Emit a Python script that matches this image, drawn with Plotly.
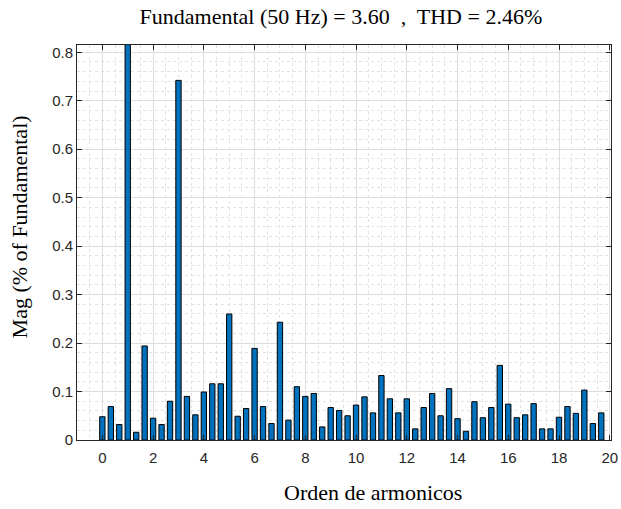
import plotly.graph_objects as go

harmonic_order = [i / 3 for i in range(60)]
magnitude = [
    0.048, 0.069, 0.032, 100.0, 0.016, 0.194, 0.045, 0.032, 0.080, 0.742,
    0.090, 0.052, 0.099, 0.116, 0.116, 0.260, 0.049, 0.065, 0.189, 0.069,
    0.034, 0.243, 0.041, 0.110, 0.090, 0.096, 0.027, 0.067, 0.061, 0.050,
    0.072, 0.089, 0.056, 0.133, 0.085, 0.056, 0.085, 0.023, 0.067, 0.096,
    0.050, 0.106, 0.044, 0.018, 0.079, 0.046, 0.067, 0.154, 0.074, 0.046,
    0.052, 0.075, 0.023, 0.023, 0.047, 0.069, 0.055, 0.103, 0.034, 0.056,
]
x_ticks = list(range(0, 21, 2))
y_ticks = [round(0.1 * i, 1) for i in range(9)]

axis_color = "#262626"
serif = "Liberation Serif, DejaVu Serif, serif"
sans = "Liberation Sans, Arial, sans-serif"

fig = go.Figure(
    go.Bar(
        x=harmonic_order,
        y=magnitude,
        width=0.21,
        marker=dict(color="#0072BD", line=dict(color="#000000", width=1)),
    )
)

fig.update_layout(
    width=621,
    height=509,
    margin=dict(l=77, r=10, t=45, b=69, autoexpand=False),
    paper_bgcolor="white",
    plot_bgcolor="white",
    showlegend=False,
    title=dict(
        text="Fundamental (50 Hz) = 3.60 &nbsp;,&nbsp; THD = 2.46%",
        x=0.549,
        xanchor="center",
        y=0.968,
        yanchor="middle",
        font=dict(family=serif, size=22, color="#000000"),
    ),
    annotations=[
        dict(
            text="Orden de armonicos", xref="paper", yref="paper",
            x=0.554, y=-0.134, xanchor="center", yanchor="middle", showarrow=False,
            font=dict(family=serif, size=22, color="#000000"),
        ),
        dict(
            text="Mag (% of Fundamental)", xref="paper", yref="paper",
            x=-0.108, y=0.539, xanchor="center", yanchor="middle", showarrow=False,
            textangle=-90,
            font=dict(family=serif, size=22, color="#000000"),
        ),
    ],
)

common = dict(
    showline=True,
    linecolor=axis_color,
    linewidth=1,
    mirror="ticks",
    ticks="inside",
    ticklen=5,
    tickcolor=axis_color,
    tickfont=dict(family=sans, size=15, color=axis_color),
    showgrid=True,
    gridcolor="#dcdcdc",
    gridwidth=1,
    zeroline=False,
    automargin=False,
)

fig.update_xaxes(
    range=[-1, 20.05],
    tickvals=x_ticks,
    ticktext=[str(v) for v in x_ticks],
    minor=dict(dtick=0.5, tick0=0, showgrid=True, griddash="dot", gridcolor="#e2e2e2", gridwidth=1, ticks=""),
    ticklabelstandoff=4,
    **common,
)
fig.update_yaxes(
    range=[0, 0.815],
    tickvals=y_ticks,
    ticktext=[f"{v:.1f}" if v else "0" for v in y_ticks],
    minor=dict(dtick=0.02, tick0=0, showgrid=True, griddash="dot", gridcolor="#e2e2e2", gridwidth=1, ticks=""),
    **common,
)

fig.write_html("out.html")
